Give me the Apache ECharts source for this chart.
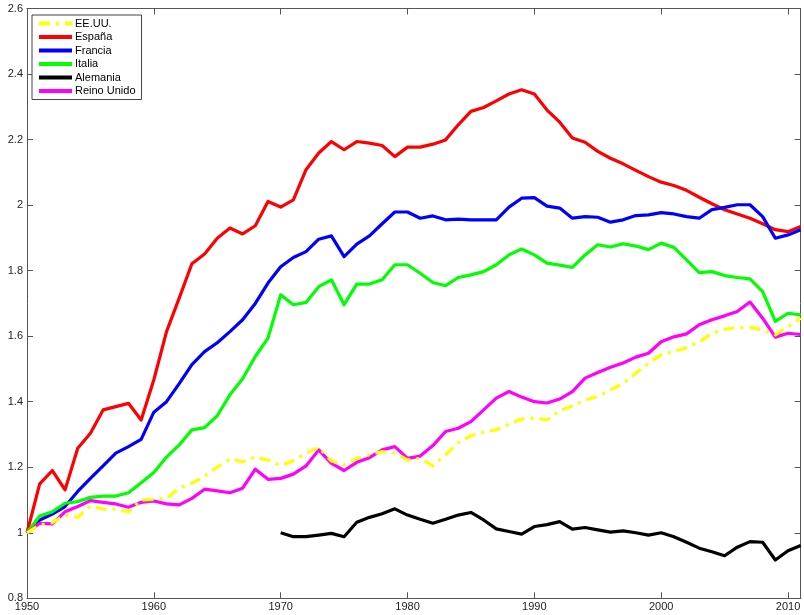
<!DOCTYPE html>
<html>
<head>
<meta charset="utf-8">
<script src="https://cdn.jsdelivr.net/npm/echarts@6/dist/echarts.min.js"></script>
<style>
html,body{margin:0;padding:0;background:#fff;}
#c{width:804px;height:615px;}
</style>
</head>
<body>
<div id="c"></div>
<script>
var startYear = 1950;
var alemaniaStart = 1970;
var seriesNames = ['EE.UU.', 'España', 'Francia', 'Italia', 'Alemania', 'Reino Unido'];
var xTicks = [1950, 1960, 1970, 1980, 1990, 2000, 2010];

var eeuu = [1.000,1.024,1.031,1.054,1.047,1.082,1.072,1.072,1.064,1.100,
  1.102,1.105,1.136,1.151,1.173,1.200,1.225,1.217,1.231,1.222,
  1.205,1.220,1.243,1.260,1.219,1.207,1.227,1.238,1.248,1.243,
  1.222,1.227,1.204,1.238,1.275,1.296,1.307,1.314,1.332,1.347,
  1.350,1.345,1.373,1.387,1.405,1.416,1.436,1.456,1.487,1.518,
  1.543,1.553,1.565,1.582,1.609,1.621,1.626,1.627,1.619,1.604,
  1.629,1.655];
var espana = [1.000,1.149,1.190,1.131,1.258,1.304,1.375,1.385,1.395,1.344,
  1.467,1.614,1.716,1.821,1.851,1.899,1.930,1.912,1.937,2.011,
  1.994,2.016,2.108,2.159,2.194,2.169,2.194,2.189,2.182,2.148,
  2.177,2.177,2.186,2.199,2.245,2.286,2.298,2.318,2.339,2.352,
  2.339,2.290,2.253,2.205,2.192,2.164,2.143,2.126,2.106,2.087,
  2.070,2.060,2.045,2.024,2.004,1.986,1.973,1.960,1.943,1.925,
  1.919,1.935];
var francia = [1.000,1.039,1.057,1.080,1.126,1.166,1.204,1.243,1.263,1.285,
  1.368,1.400,1.455,1.513,1.553,1.580,1.614,1.650,1.700,1.762,
  1.812,1.840,1.858,1.896,1.906,1.843,1.881,1.906,1.943,1.979,
  1.979,1.960,1.967,1.955,1.957,1.955,1.955,1.955,1.994,2.021,
  2.023,1.997,1.991,1.960,1.965,1.963,1.948,1.955,1.968,1.970,
  1.977,1.973,1.965,1.960,1.986,1.993,2.001,2.001,1.965,1.899,
  1.909,1.925];
var italia = [1.000,1.051,1.064,1.090,1.095,1.108,1.112,1.112,1.122,1.153,
  1.184,1.231,1.268,1.314,1.321,1.357,1.421,1.470,1.538,1.594,
  1.726,1.696,1.703,1.751,1.772,1.696,1.759,1.759,1.772,1.818,
  1.818,1.792,1.764,1.754,1.779,1.787,1.797,1.818,1.848,1.866,
  1.848,1.823,1.817,1.810,1.848,1.879,1.872,1.882,1.875,1.864,
  1.884,1.871,1.833,1.794,1.797,1.785,1.779,1.775,1.736,1.645,
  1.670,1.665];
var alemania = [1.000,0.988,0.988,0.993,0.998,0.988,1.032,1.047,1.058,1.073,
  1.054,1.041,1.029,1.041,1.054,1.062,1.039,1.012,1.004,0.996,
  1.019,1.025,1.034,1.011,1.016,1.009,1.002,1.006,1.000,0.993,
  1.000,0.988,0.971,0.953,0.942,0.930,0.956,0.973,0.971,0.917,
  0.945,0.961];
var reinoUnido = [1.000,1.029,1.027,1.064,1.080,1.098,1.093,1.088,1.078,1.093,
  1.097,1.088,1.085,1.105,1.133,1.128,1.122,1.136,1.194,1.163,
  1.166,1.179,1.204,1.253,1.212,1.190,1.215,1.229,1.253,1.263,
  1.227,1.234,1.266,1.309,1.319,1.339,1.375,1.411,1.431,1.414,
  1.400,1.396,1.408,1.431,1.472,1.489,1.505,1.518,1.536,1.548,
  1.583,1.598,1.607,1.635,1.650,1.662,1.675,1.704,1.655,1.597,
  1.609,1.605];

function pairs(start, vals) {
  return vals.map(function (v, i) { return [start + i, v]; });
}

var colors = ['#ffff00', '#ff0000', '#0000ff', '#00ff00', '#000000', '#ff00ff'];
var dataSets = [pairs(startYear, eeuu), pairs(startYear, espana), pairs(startYear, francia),
  pairs(startYear, italia), pairs(alemaniaStart, alemania), pairs(startYear, reinoUnido)];

var series = seriesNames.map(function (name, i) {
  return {
    name: name,
    type: 'line',
    data: dataSets[i],
    symbol: 'none',
    showSymbol: false,
    animation: false,
    z: i === 0 ? 3 : 2,
    lineStyle: {
      color: colors[i],
      width: 3.2,
      type: i === 0 ? [11, 6, 3, 6] : 'solid',
      cap: 'butt',
      join: 'round'
    },
    itemStyle: { color: colors[i] }
  };
});

var font = 'Liberation Sans, Arial, Helvetica, sans-serif';
var axisLineStyle = { color: '#555', width: 1 };

var chart = echarts.init(document.getElementById('c'));
chart.setOption({
  backgroundColor: '#fff',
  animation: false,
  grid: { left: 27, right: 3.3, top: 8.5, bottom: 16.7, containLabel: false },
  legend: {
    orient: 'vertical',
    left: 32,
    top: 15,
    data: seriesNames,
    borderColor: '#444',
    borderWidth: 1,
    padding: [3, 6, 3, 5],
    itemGap: 2.5,
    itemWidth: 33,
    itemHeight: 10,
    backgroundColor: '#fff',
    itemStyle: { opacity: 0, borderWidth: 0 },
    lineStyle: { width: 4 },
    textStyle: { fontFamily: font, fontSize: 11, color: '#000', padding: [0, 0, 0, -2] }
  },
  xAxis: [{
    type: 'value', min: 1950, max: 2011, interval: 10,
    position: 'bottom',
    splitLine: { show: false },
    axisLine: { show: true, lineStyle: axisLineStyle },
    axisTick: { show: true, inside: true, length: 6, lineStyle: axisLineStyle },
    axisLabel: {
      fontFamily: font, fontSize: 11, color: '#222', margin: 3,
      showMaxLabel: false,
      formatter: function (v) { return xTicks.indexOf(v) >= 0 ? String(v) : ''; }
    }
  }, {
    type: 'value', min: 1950, max: 2011, interval: 10,
    position: 'top',
    splitLine: { show: false },
    axisLine: { show: true, lineStyle: axisLineStyle },
    axisTick: { show: true, inside: true, length: 6, lineStyle: axisLineStyle },
    axisLabel: { show: false }
  }],
  yAxis: [{
    type: 'value', min: 0.8, max: 2.6, interval: 0.2,
    position: 'left',
    splitLine: { show: false },
    axisLine: { show: true, lineStyle: axisLineStyle },
    axisTick: { show: true, inside: true, length: 6, lineStyle: axisLineStyle },
    axisLabel: {
      fontFamily: font, fontSize: 11, color: '#222', margin: 4,
      formatter: function (v) { return String(Math.round(v * 10) / 10); }
    }
  }, {
    type: 'value', min: 0.8, max: 2.6, interval: 0.2,
    position: 'right',
    splitLine: { show: false },
    axisLine: { show: true, lineStyle: axisLineStyle },
    axisTick: { show: true, inside: true, length: 6, lineStyle: axisLineStyle },
    axisLabel: { show: false }
  }],
  series: series
});
</script>
</body>
</html>
